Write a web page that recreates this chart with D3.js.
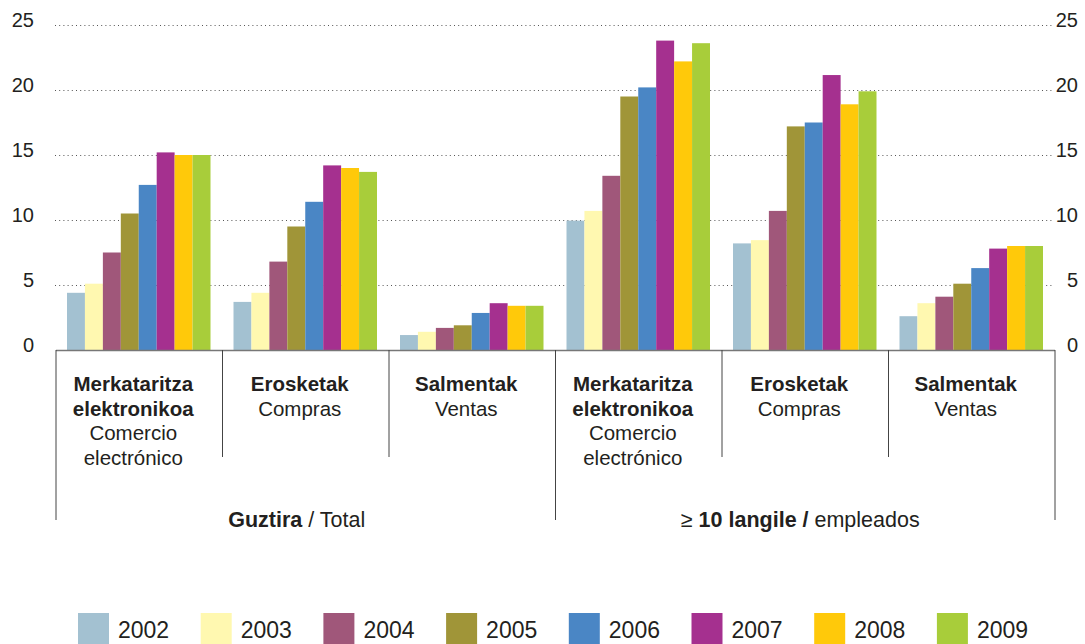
<!DOCTYPE html>
<html>
<head>
<meta charset="utf-8">
<script src="https://cdn.jsdelivr.net/npm/d3@7"></script>
<style>
  html, body { margin: 0; padding: 0; background: #fff; }
  svg text { font-family: "Liberation Sans", Arial, Helvetica, sans-serif; fill: #231f20; }
</style>
</head>
<body>
<svg id="chart" width="1085" height="644"></svg>
<script>
// Years shown as series
const years = ["2002", "2003", "2004", "2005", "2006", "2007", "2008", "2009"];
const colors = ["#a3c1d1", "#fff8b0", "#a0577a", "#a09538", "#4a86c5", "#a5308f", "#ffc90a", "#a8cd3a"];

// Six categories: three indicators for all companies, then for companies with 10+ employees
const categories = ["tot-ecom", "tot-buy", "tot-sell", "big-ecom", "big-buy", "big-sell"];
const labelBold = [["Merkataritza", "elektronikoa"], ["Erosketak"], ["Salmentak"],
                   ["Merkataritza", "elektronikoa"], ["Erosketak"], ["Salmentak"]];
const labelRegular = [["Comercio", "electrónico"], ["Compras"], ["Ventas"],
                      ["Comercio", "electrónico"], ["Compras"], ["Ventas"]];
const sectorBold = ["Guztira", "10 langile /"];
const sectorRegular = [" / Total", " empleados"];

// Percentages per year, in the order of `categories`
const s2002 = [4.4, 3.7, 1.15, 9.95, 8.2, 2.6];
const s2003 = [5.1, 4.4, 1.4, 10.7, 8.45, 3.6];
const s2004 = [7.5, 6.8, 1.7, 13.4, 10.7, 4.1];
const s2005 = [10.5, 9.5, 1.9, 19.5, 17.2, 5.1];
const s2006 = [12.7, 11.4, 2.85, 20.2, 17.5, 6.3];
const s2007 = [15.2, 14.2, 3.6, 23.8, 21.15, 7.8];
const s2008 = [15.0, 14.0, 3.4, 22.2, 18.9, 8.0];
const s2009 = [15.0, 13.7, 3.4, 23.6, 19.9, 8.0];
const series = [s2002, s2003, s2004, s2005, s2006, s2007, s2008, s2009];

const yTicks = [0, 5, 10, 15, 20, 25];

const svg = d3.select("#chart");
const plotLeft = 56, plotRight = 1055, plotTop = 25, plotBottom = 350;

const y = d3.scaleLinear().domain([0, 25]).range([plotBottom, plotTop]);
const xGroup = d3.scaleBand().domain(categories).range([plotLeft, plotRight]).padding(0);
const xYear = d3.scaleBand().domain(years)
  .range([11, xGroup.bandwidth() - 12]).padding(0);
const color = d3.scaleOrdinal().domain(years).range(colors);

// Dotted gridlines
const grid = svg.append("g")
  .attr("transform", `translate(${plotLeft - 1},0)`)
  .call(d3.axisLeft(y).tickValues(yTicks.filter(d => d > 0)).tickSize(-(plotRight - plotLeft - 2)).tickFormat(""));
grid.select(".domain").remove();
grid.selectAll(".tick line")
  .attr("stroke", "#555").attr("stroke-width", 1).attr("stroke-dasharray", "1,3.2");

// Left and right value labels
const axL = svg.append("g").attr("transform", "translate(34,0)")
  .call(d3.axisLeft(y).tickValues(yTicks).tickSize(0).tickPadding(0));
axL.select(".domain").remove();
axL.selectAll("text").attr("font-size", 20).attr("dy", "0.05em").attr("text-anchor", "end");

const axR = svg.append("g").attr("transform", "translate(1078,0)")
  .call(d3.axisRight(y).tickValues(yTicks).tickSize(0).tickPadding(0));
axR.select(".domain").remove();
axR.selectAll("text").attr("font-size", 20).attr("dy", "0.05em").attr("text-anchor", "end");

// Bars
const rows = categories.map((c, ci) => ({ cat: c, vals: years.map((yr, yi) => ({ year: yr, value: series[yi][ci] })) }));
svg.append("g").selectAll("g").data(rows).join("g")
  .attr("transform", d => `translate(${xGroup(d.cat)},0)`)
  .selectAll("rect").data(d => d.vals).join("rect")
  .attr("x", d => xYear(d.year))
  .attr("width", xYear.bandwidth())
  .attr("y", d => y(d.value))
  .attr("height", d => y(0) - y(d.value))
  .attr("fill", d => color(d.year));

// Baseline
svg.append("line")
  .attr("x1", plotLeft).attr("x2", plotRight).attr("y1", y(0) + 0.5).attr("y2", y(0) + 0.5)
  .attr("stroke", "#777").attr("stroke-width", 1.5);

// Category dividers (outer ones extend down to the sector labels)
const dividers = categories.map(c => xGroup(c)).concat([plotRight]);
svg.append("g").selectAll("line").data(dividers).join("line")
  .attr("x1", d => d).attr("x2", d => d)
  .attr("y1", y(0))
  .attr("y2", (d, i) => (i % 3 === 0 ? 520 : 457))
  .attr("stroke", "#444").attr("stroke-width", 1);

// Category labels
const lineH = 24.5;
categories.forEach((c, i) => {
  const cx = xGroup(c) + xGroup.bandwidth() / 2 - 6;
  const t = svg.append("text").attr("x", cx).attr("y", 391).attr("text-anchor", "middle").attr("font-size", 20.5);
  const lines = labelBold[i].map(s => ({ s, b: true })).concat(labelRegular[i].map(s => ({ s, b: false })));
  lines.forEach((ln, k) => {
    t.append("tspan").attr("x", cx).attr("dy", k === 0 ? 0 : lineH)
      .attr("font-weight", ln.b ? "bold" : "normal").text(ln.s);
  });
});

// Sector labels
const sx0 = (xGroup(categories[0]) + xGroup(categories[2]) + xGroup.bandwidth()) / 2 - 9;
const sx1 = (xGroup(categories[3]) + xGroup(categories[5]) + xGroup.bandwidth()) / 2 - 5;
const t0 = svg.append("text").attr("x", sx0).attr("y", 527).attr("text-anchor", "middle").attr("font-size", 21.5);
t0.append("tspan").attr("font-weight", "bold").text(sectorBold[0]);
t0.append("tspan").text(sectorRegular[0]);
const t1 = svg.append("text").attr("x", sx1).attr("y", 527).attr("text-anchor", "middle").attr("font-size", 21.5);
t1.append("tspan").text("≥ ");
t1.append("tspan").attr("font-weight", "bold").text(sectorBold[1]);
t1.append("tspan").text(sectorRegular[1]);

// Legend
const legendX = d3.scalePoint().domain(years).range([78, 78 + 122.7 * 7]);
const lg = svg.append("g").selectAll("g").data(years).join("g")
  .attr("transform", d => `translate(${legendX(d)},613)`);
lg.append("rect").attr("width", 31).attr("height", 31).attr("fill", d => color(d));
lg.append("text").attr("x", 40).attr("y", 25).attr("font-size", 23).text(d => d);
</script>
</body>
</html>
